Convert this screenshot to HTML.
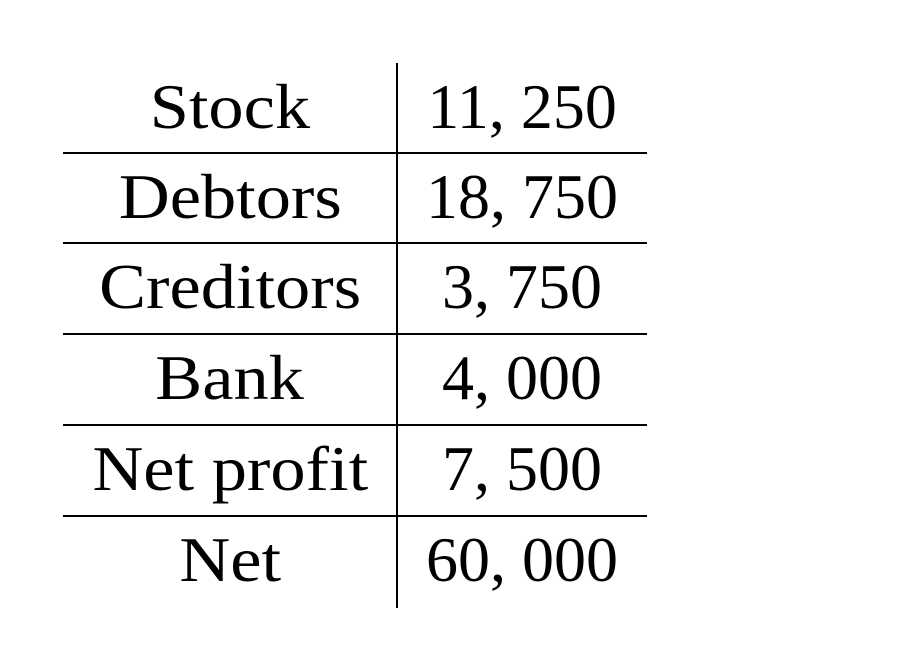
<!DOCTYPE html>
<html><head><meta charset="utf-8"><style>
body{margin:0;background:#fff;}
#wrap{position:relative;width:918px;height:670px;background:#fff;font-family:"Liberation Serif",serif;color:#000;}
.cell{position:absolute;height:91px;display:flex;align-items:center;justify-content:center;font-size:64px;line-height:1;white-space:pre;}
.cell span{display:inline-block;position:relative;top:-2px;}
.l span{transform:scaleX(1.1);}
.l{left:63px;width:334px;}
.r{left:397px;width:250px;}
.h{position:absolute;left:63px;width:584px;height:2px;background:#000;}
.v{position:absolute;left:396px;top:63px;width:2px;height:545px;background:#000;}
</style></head><body>
<div id="wrap">
<div class="v"></div>
<div class="h" style="top:152px"></div>
<div class="h" style="top:242px"></div>
<div class="h" style="top:333px"></div>
<div class="h" style="top:424px"></div>
<div class="h" style="top:515px"></div>
<div class="cell l" style="top:63px"><span>Stock</span></div>
<div class="cell r" style="top:63px"><span>11, 250</span></div>
<div class="cell l" style="top:153px"><span>Debtors</span></div>
<div class="cell r" style="top:153px"><span>18, 750</span></div>
<div class="cell l" style="top:243px"><span>Creditors</span></div>
<div class="cell r" style="top:243px"><span>3, 750</span></div>
<div class="cell l" style="top:334px"><span>Bank</span></div>
<div class="cell r" style="top:334px"><span>4, 000</span></div>
<div class="cell l" style="top:425px"><span>Net profit</span></div>
<div class="cell r" style="top:425px"><span>7, 500</span></div>
<div class="cell l" style="top:516px"><span>Net</span></div>
<div class="cell r" style="top:516px"><span>60, 000</span></div>
</div>
</body></html>
